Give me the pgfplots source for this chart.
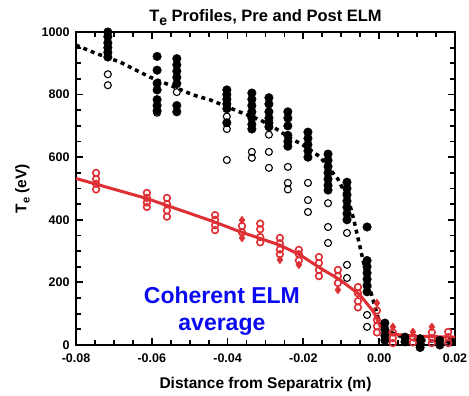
\documentclass[border=0pt]{standalone}
\usepackage{fontspec}
\setmainfont{Liberation Sans}
\usepackage{pgfplots}
\pgfplotsset{compat=1.18}
\usetikzlibrary{calc}
\definecolor{myred}{RGB}{222,48,52}
\definecolor{myblue}{RGB}{10,10,240}
\begin{document}
\begin{tikzpicture}
\begin{axis}[
  name=ax,
  scale only axis, width=379pt, height=313pt,
  xmin=-0.08, xmax=0.02, ymin=0, ymax=1000,
  xtick={-0.08,-0.06,-0.04,-0.02,0,0.02},
  xticklabels={-0.08,-0.06,-0.04,-0.02,0.00,0.02},
  scaled x ticks=false,
  ytick={0,200,400,600,800,1000},
  yticklabels={0,200,400,600,800,1000},
  minor x tick num=3, minor y tick num=3,
  tick align=inside, xtick pos=both, ytick pos=both,
  xticklabel pos=bottom, yticklabel pos=left,
  major tick length=7pt, minor tick length=5pt,
  every tick/.style={black, line width=1.8pt},
  axis line style={line width=2.2pt},
  /pgf/number format/assume math mode=true,
  tick label style={font=\bfseries\fontsize{12.5}{12.5}\selectfont},
  xticklabel style={yshift=-5pt},
  yticklabel style={xshift=-3pt},
  xlabel={Distance from Separatrix (m)},
  ylabel={T\raisebox{-0.4ex}{\fontsize{11}{11}\selectfont e} (eV)},
  title={T\raisebox{-0.45ex}{\fontsize{14}{14}\selectfont e} Profiles, Pre and Post ELM},
  label style={font=\bfseries\fontsize{15.5}{15.5}\selectfont},
  title style={font=\bfseries\fontsize{16.5}{16.5}\selectfont, yshift=-3pt},
  xlabel style={yshift=-8pt},
  ylabel style={yshift=5pt},
  clip=false,
]
% black dashed (pre-ELM fit)
\addplot[black, line width=3.5pt, dash pattern=on 4pt off 4pt] coordinates {
(-0.08,958)(-0.075,933)(-0.0684,904)(-0.0605,856)(-0.0552,830)(-0.0491,799)
(-0.0446,783)(-0.0367,744)(-0.0314,719)(-0.028,697)(-0.0235,661)(-0.0201,639)
(-0.0156,601)(-0.0109,530)(-0.008,460)(-0.0065,390)(-0.005,310)(-0.0035,230)
(-0.002,160)(-0.0006,100)(0.0005,55)(0.005,30)(0.01,15)(0.02,10)};
% black filled points
\addplot[only marks, mark=*, mark size=4.3pt, black] coordinates {
(-0.0716,1000)(-0.0716,985)(-0.0716,965)(-0.0716,950)(-0.0716,935)(-0.0716,920)
(-0.0586,922)(-0.0586,878)(-0.0586,836)(-0.0586,815)(-0.0586,784)(-0.0586,765)(-0.0586,748)
(-0.0534,915)(-0.0534,895)(-0.0534,875)(-0.0534,855)(-0.0534,835)(-0.0534,765)(-0.0534,745)
(-0.0402,815)(-0.0402,800)(-0.0402,785)(-0.0402,770)(-0.0402,755)(-0.0402,710)
(-0.0336,805)(-0.0336,785)(-0.0336,765)(-0.0336,745)(-0.0336,725)(-0.0336,705)(-0.0336,690)
(-0.0291,790)(-0.0291,770)(-0.0291,745)(-0.0291,725)(-0.0291,710)(-0.0291,697)
(-0.0241,745)(-0.0241,725)(-0.0241,700)(-0.0241,670)(-0.0241,650)(-0.0241,635)
(-0.0188,680)(-0.0188,660)(-0.0188,640)(-0.0188,620)(-0.0188,600)
(-0.0135,610)(-0.0135,590)(-0.0135,570)(-0.0135,550)(-0.0135,530)(-0.0135,510)(-0.0135,495)
(-0.0085,520)(-0.0085,500)(-0.0085,480)(-0.0085,460)(-0.0085,440)(-0.0085,420)(-0.0085,400)
(-0.0032,377)(-0.0032,270)(-0.0032,250)(-0.0032,230)(-0.0032,210)(-0.0032,190)(-0.0032,170)
(0.0015,70)(0.0015,50)(0.0015,30)(0.0015,15)
(0.0068,25)(0.0068,10)(0.0108,20)(0.0108,5)(0.0108,-8)(0.016,15)(0.016,0)(0.019,10)};
% black hollow points
\addplot[only marks, mark=o, mark size=3.5pt, black, line width=1.1pt] coordinates {
(-0.0716,865)(-0.0716,830)(-0.0586,742)(-0.0534,808)
(-0.0402,730)(-0.0402,690)(-0.0402,591)(-0.0336,617)(-0.0336,598)
(-0.0291,672)(-0.0291,617)(-0.0291,566)(-0.0241,569)(-0.0241,518)(-0.0241,497)
(-0.0188,518)(-0.0188,463)(-0.0188,425)(-0.0135,453)(-0.0135,377)(-0.0135,326)
(-0.0085,358)(-0.0085,256)(-0.0085,214)(-0.0032,96)(-0.0032,58)};
% red line (coherent ELM average)
\addplot[myred, line width=3pt] coordinates {
(-0.08,532)(-0.0613,468)(-0.0439,395)(-0.0367,362)(-0.0262,319)(-0.0209,288)
(-0.0156,246)(-0.0103,208)(-0.0051,160)(-0.0016,108)(0.0002,62)(0.003,35)(0.01,28)(0.02,25)};
% red filled diamonds
\addplot[only marks, mark=diamond*, mark size=4pt, myred] coordinates {
(-0.0362,399)(-0.0362,342)(-0.0262,272)(-0.0212,256)(-0.0109,176)(-0.0006,134)(0.0036,58)(0.0139,58)(0.0089,42)};
% red hollow circles
\addplot[only marks, mark=o, mark size=3.3pt, myred, line width=1.6pt, mark options={fill=white}] coordinates {
(-0.0747,550)(-0.0747,530)(-0.0747,515)(-0.0747,497)
(-0.0613,486)(-0.0613,470)(-0.0613,455)(-0.0613,441)
(-0.056,470)(-0.056,450)(-0.056,430)(-0.056,410)
(-0.0433,415)(-0.0433,400)(-0.0433,383)(-0.0433,367)
(-0.0362,380)(-0.0362,360)
(-0.0314,388)(-0.0314,370)(-0.0314,345)(-0.0314,328)
(-0.0262,342)(-0.0262,325)(-0.0262,305)(-0.0262,290)
(-0.0212,304)(-0.0212,290)(-0.0212,270)
(-0.0159,281)(-0.0159,262)(-0.0159,240)(-0.0159,220)
(-0.0109,240)(-0.0109,220)(-0.0109,198)
(-0.0056,185)(-0.0056,165)(-0.0056,140)(-0.0056,120)
(-0.0006,110)(-0.0006,80)(-0.0006,60)(-0.0006,40)
(0.0036,40)(0.0036,22)(0.0036,6)
(0.0089,25)(0.0089,8)
(0.0139,40)(0.0139,22)(0.0139,6)
(0.0182,42)(0.0182,25)(0.0182,6)};
\node[font=\bfseries\fontsize{23}{27}\selectfont, text=myblue, align=center] at (axis cs:-0.0415,109) {Coherent ELM\\average};
\end{axis}
\pgfresetboundingbox
\path ($(ax.south west)+(-76pt,-51pt)$) rectangle ($(ax.south west)+(393pt,345pt)$);
\end{tikzpicture}
\end{document}
